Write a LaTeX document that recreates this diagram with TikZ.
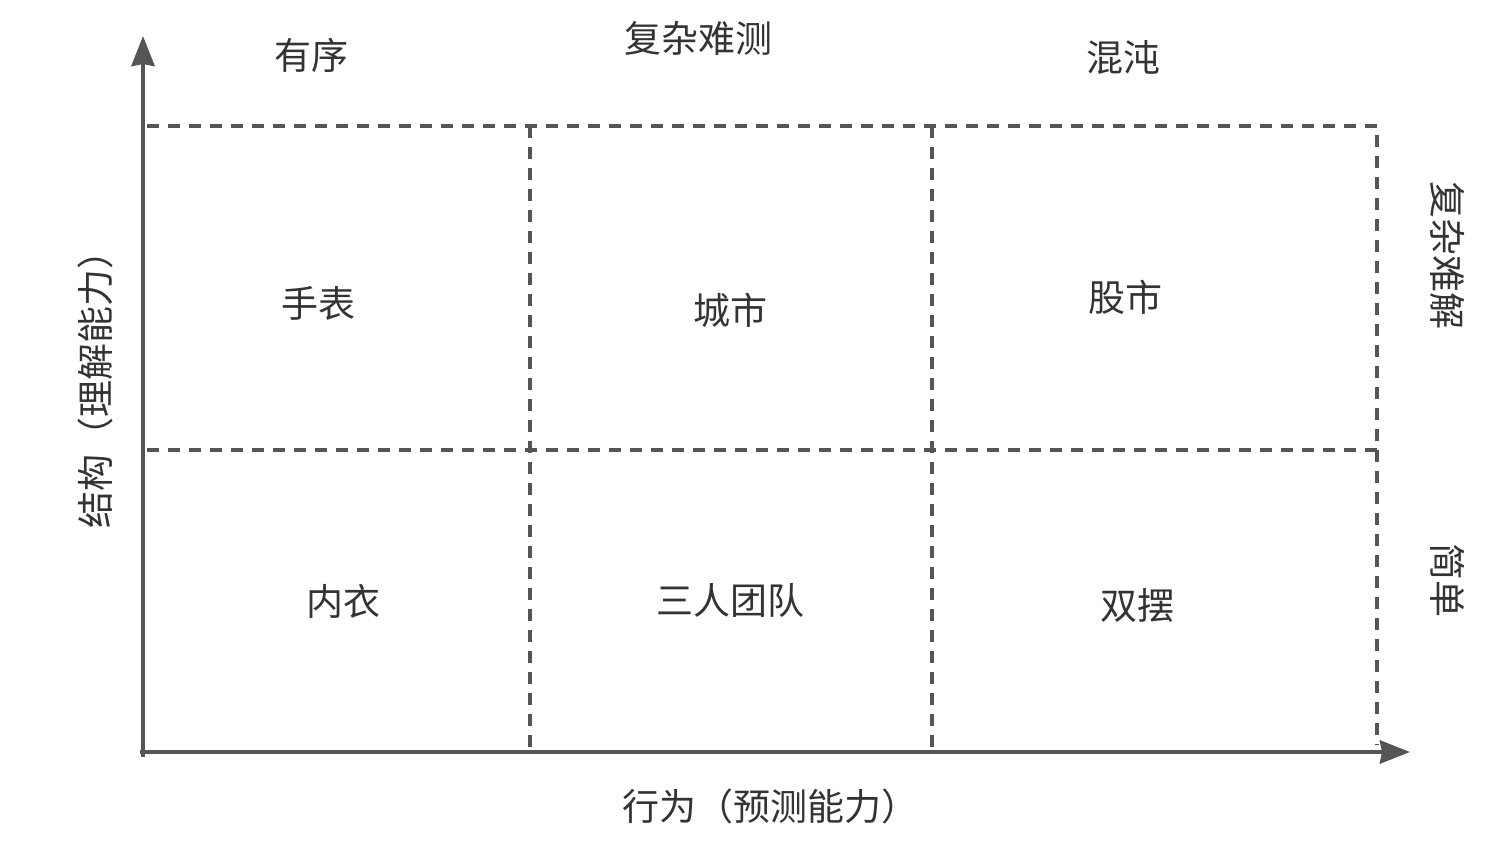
\documentclass[tikz,border=0pt]{standalone}
\usepackage{fontspec}
\setmainfont{Noto Sans CJK SC}
\usetikzlibrary{arrows.meta}
\definecolor{axisgray}{HTML}{555555}
\definecolor{textgray}{HTML}{333333}
\tikzset{
  axisline/.style={draw=axisgray, line width=4.5pt, -{Stealth[length=30pt,width=23pt,inset=2pt]}},
  gridline/.style={draw=axisgray, line width=3.5pt, dash pattern=on 12pt off 9pt},
  lbl/.style={text=textgray, font=\fontsize{37}{40}\selectfont, inner sep=0pt},
}
\begin{document}
\begin{tikzpicture}[x=1pt,y=-1pt]
\useasboundingbox (0,0) rectangle (1496,860);
% corners
\coordinate (O) at (143,757);
\coordinate (Otop) at (143,36);
\coordinate (Ox) at (140,752);
\coordinate (Oright) at (1410,752);
% grid coordinates
\coordinate (TL) at (147,126);
\coordinate (TR) at (1377,126);
\coordinate (ML) at (147,450);
\coordinate (MR) at (1377,450);
\coordinate (BR) at (1377,745);
\coordinate (V1t) at (530,126);
\coordinate (V1b) at (530,750);
\coordinate (V2t) at (932,126);
\coordinate (V2b) at (932,748);
% dashed grid
\draw[gridline] (TL) -- (TR) -- (BR);
\draw[gridline] (ML) -- (MR);
\draw[gridline] (V1t) -- (V1b);
\draw[gridline] (V2t) -- (V2b);
% axes
\draw[axisline] (O) -- (Otop);
\draw[axisline] (Ox) -- (Oright);
% top labels
\node[lbl] (ordered) at (311,55) {有序};
\node[lbl] (complex) at (698,38) {复杂难测};
\node[lbl] (chaos) at (1123,58) {混沌};
% cells
\node[lbl] (watch) at (318,303) {手表};
\node[lbl] (city) at (730,310) {城市};
\node[lbl] (stock) at (1125,297) {股市};
\node[lbl] (underwear) at (343,601) {内衣};
\node[lbl] (team) at (730,600) {三人团队};
\node[lbl] (pendulum) at (1137,605) {双摆};
% axis labels
\node[lbl] (xlabel) at (770,806) {行为（预测能力）};
\node[lbl, rotate=90] (ylabel) at (95,380) {结构（理解能力）};
\node[lbl, rotate=-90] (hard) at (1448,255) {复杂难解};
\node[lbl, rotate=-90] (simple) at (1448,580) {简单};
\end{tikzpicture}
\end{document}
